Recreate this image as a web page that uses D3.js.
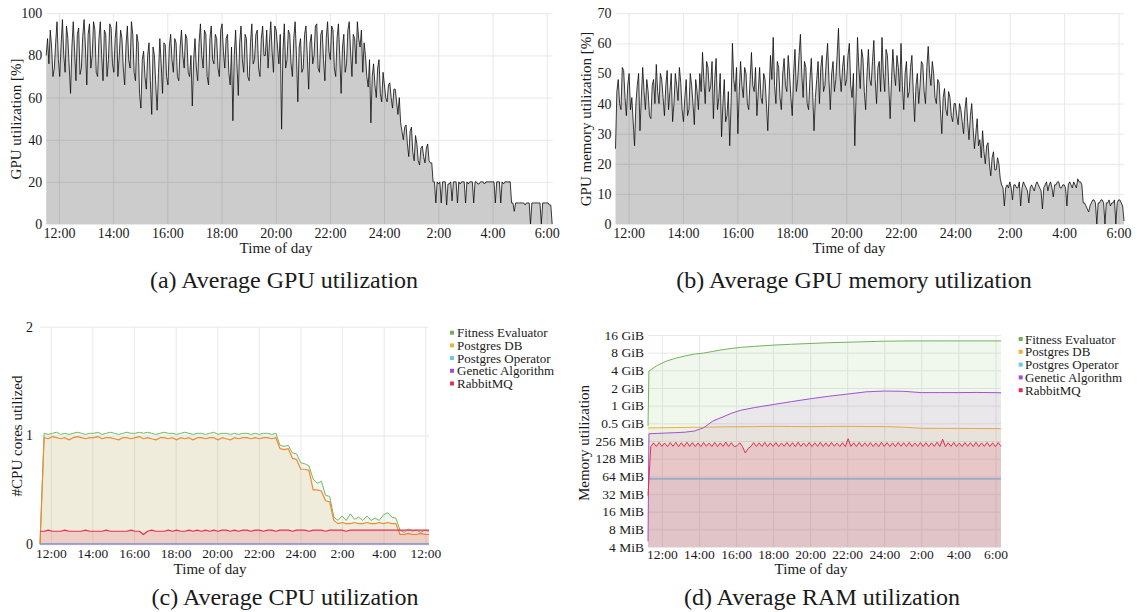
<!DOCTYPE html>
<html><head><meta charset="utf-8">
<script src="https://cdn.jsdelivr.net/npm/d3@7"></script>
<style>body{margin:0;background:#fff}</style>
</head><body>
<svg id="fig" width="1137" height="612"></svg>
<script>
// ---------------- DATA ----------------
const timeTicks = [12, 14, 16, 18, 20, 22, 24, 26, 28, 30];
const timeLabels = ["12:00","14:00","16:00","18:00","20:00","22:00","24:00","2:00","4:00","6:00"];
const cpuTimeLabels = ["12:00","14:00","16:00","18:00","20:00","22:00","24:00","2:00","4:00","12:00"];

// (a) average GPU utilization [%], uniformly sampled between start and end (hours)
const gpuUtilStart = 11.53, gpuUtilEnd = 30.2;
const gpuUtil = [80,88,76,92,84,70,74,86,96,78,
 70,85,97,80,72,94,88,75,62,84,96,82,68,90,93,71,74,89,97,84,
 66,90,95,74,80,96,92,72,70,88,96,80,68,92,90,70,78,95,93,76,
 72,88,96,70,80,92,88,74,66,85,94,78,74,96,90,72,68,90,86,62,
 55,78,82,70,64,80,86,68,52,84,80,66,54,72,88,76,62,86,85,70,
 66,84,90,78,72,88,86,70,68,84,92,80,74,90,88,72,70,80,56,78,
 88,74,68,86,95,80,74,92,90,70,66,88,94,78,76,90,88,74,70,92,
 95,82,74,88,90,72,66,84,49,80,92,76,61,86,94,78,72,90,88,70,
 68,86,95,76,78,90,92,74,70,88,94,80,80,92,74,86,96,82,72,94,
 92,84,76,90,45,82,95,74,78,92,90,76,70,88,96,80,58,84,88,72,
 74,90,94,80,64,86,90,76,80,94,95,74,72,90,92,78,68,88,96,82,
 78,94,92,74,70,88,95,80,62,84,90,72,76,92,96,82,70,90,88,76,
 96,88,84,92,72,86,80,70,65,78,48,70,76,66,60,74,78,62,58,72,
 66,60,58,66,67,60,55,64,64,58,52,60,48,44,40,46,47,38,32,44,
 46,34,30,42,38,30,28,36,37,32,29,36,38,30,29,29,20,20,10,20,
 19,20,10,20,20,20,9,19,19,20,11,20,20,20,10,20,19,20,20,20,
 10,20,19,20,20,20,10,20,20,19,19,20,20,20,19,20,20,20,20,20,
 20,20,10,20,20,20,10,20,19,20,20,20,20,20,10,10,6,10,10,10,
 10,10,10,10,9,10,10,10,0,10,10,10,10,10,10,10,0,10,10,10,
 10,10,9,9,0];

// (b) average GPU memory utilization [%]
const gpuMemStart = 11.52, gpuMemEnd = 30.2;
const gpuMem = [25,44,48,40,38,52,51,42,36,46,
 50,38,42,34,26,40,46,50,31,42,52,44,38,48,44,36,35,46,48,40,
 53,44,40,50,48,42,36,46,51,38,44,50,34,40,50,46,41,52,47,38,
 34,42,48,36,38,50,46,40,33,48,44,38,50,44,57,48,40,54,52,44,
 46,54,35,48,55,38,42,50,29,40,48,34,36,44,26,40,60,48,44,52,
 30,44,54,46,42,52,50,40,38,48,57,46,44,52,36,44,52,42,40,50,
 48,40,31,44,56,48,62,46,40,54,52,42,38,50,55,46,44,56,50,42,
 36,50,58,44,48,56,63,50,42,54,52,40,38,48,55,44,31,42,48,54,
 40,52,56,44,46,54,60,48,38,50,54,44,48,56,65,50,44,52,56,46,
 48,56,60,46,42,50,26,44,62,52,45,58,55,44,38,50,58,48,46,54,
 61,48,40,52,54,44,62,50,44,58,56,46,35,48,58,50,46,56,52,44,
 60,46,38,50,54,42,44,52,56,44,34,46,50,40,46,54,53,44,40,52,
 59,50,46,54,50,42,40,48,47,38,30,42,45,38,36,44,42,36,34,40,
 40,36,33,40,38,34,30,38,42,34,28,36,40,32,25,30,35,26,28,22,
 31,24,20,26,27,20,16,22,24,18,18,22,20,15,13,12,6,12,13,12,
 14,12,8,13,13,12,12,14,6,12,14,13,12,11,7,12,13,12,11,13,
 14,13,12,11,5,12,13,14,11,13,14,12,9,13,13,14,14,12,12,13,
 13,12,6,13,14,13,12,14,13,12,15,14,14,13,7,7,6,5,4,6,
 7,8,8,7,0,7,7,8,8,7,0,7,7,8,6,7,7,8,0,7,
 8,8,7,6,1];

// (c) CPU cores utilized
const cpuStart = 11.48, cpuEnd = 30.18;
const cpuFitness = [0,
 1.02,1.01,1.02,1.03,1.01,1.02,1.01,1.02,1.03,1.02,
 1.01,1.02,1.02,1.03,1.01,1.02,1.03,1.02,1.01,1.02,
 1.03,1.02,1.02,1.03,1.02,1.03,1.02,1.01,1.02,1.03,
 1.02,1.02,1.01,1.02,1.03,1.02,1.01,1.02,1.02,1.01,
 1.02,1.03,1.01,1.02,1.02,1.01,1.02,1.01,1.02,1.02,
 1.01,1.02,1.01,1.02,1.02,1.01,1.02,
 0.91,0.90,0.91,0.84,0.83,0.75,0.74,0.72,0.60,0.56,0.58,0.45,0.44,0.25,
 0.22,0.26,0.22,0.28,0.23,0.25,0.22,0.26,0.22,0.24,0.22,0.27,0.29,0.25,0.24,
 0.13,0.11,0.14,0.12,0.13,0.11,0.13,0.12];
const cpuSecondary = [0,
 0.98,0.97,0.99,0.98,0.97,0.98,0.96,0.98,0.99,0.98,
 0.97,0.98,0.98,0.99,0.97,0.98,0.98,0.97,0.96,0.98,
 0.98,0.97,0.98,0.99,0.97,0.98,0.97,0.96,0.98,0.98,
 0.97,0.98,0.96,0.98,0.97,0.98,0.96,0.98,0.98,0.97,
 0.98,0.98,0.96,0.98,0.97,0.96,0.98,0.97,0.98,0.98,
 0.97,0.98,0.97,0.98,0.98,0.97,0.98,
 0.88,0.87,0.88,0.79,0.78,0.69,0.69,0.68,0.50,0.50,0.49,0.40,0.39,0.22,
 0.19,0.20,0.19,0.19,0.20,0.19,0.19,0.20,0.19,0.19,0.20,0.19,0.20,0.19,0.19,
 0.09,0.09,0.10,0.09,0.09,0.10,0.09,0.09];
const cpuRabbit = [0.12,0.12,0.13,0.12,0.12,0.12,0.13,0.12,0.12,0.12,
 0.12,0.13,0.12,0.12,0.12,0.12,0.13,0.12,0.12,0.12,
 0.12,0.12,0.13,0.12,0.12,0.09,0.12,0.13,0.12,0.12,
 0.12,0.13,0.12,0.13,0.12,0.12,0.13,0.12,0.13,0.12,
 0.13,0.12,0.13,0.12,0.13,0.13,0.12,0.13,0.12,0.13,
 0.13,0.12,0.13,0.13,0.12,0.13,0.13,0.12,0.13,0.13,
 0.13,0.12,0.13,0.13,0.13,0.12,0.13,0.13,0.13,0.12,
 0.13,0.13,0.13,0.13,0.12,0.13,0.13,0.13,0.13,0.13,
 0.13,0.13,0.13,0.13,0.13,0.13,0.13,0.13,0.13,0.13,
 0.13,0.13,0.13,0.13,0.13];
const cpuFlatTimes = [11.48, 30.18];
const cpuOperator = [0.003, 0.003];
const cpuGenetic = [0.002, 0.002];

// (d) memory in MiB
const ramTimes = [11.25,11.3,11.75,12.25,12.75,13.25,13.75,14.25,14.75,15.25,15.75,16.25,17,18,19,20,21,22,23,24,25,26,27,28,29,30.3];
const ramFitness = [460,3990,4970,5900,6600,7200,7750,8050,8600,9200,9650,10080,10500,11000,11400,11750,12100,12350,12600,12850,12950,13000,13000,13000,13000,13000];
const ramGenetic = [5,340,345,350,355,362,378,430,560,650,760,855,950,1070,1200,1340,1480,1610,1760,1820,1800,1710,1710,1710,1720,1700];
const ramPostgresDB = [428,428,430,432,434,436,438,440,442,445,447,448,450,455,452,450,453,455,452,450,440,422,420,420,418,416];
const ramOperatorTimes = [11.25, 30.3];
const ramOperator = [58, 58];
const ramRabbitStart = 11.25, ramRabbitEnd = 30.3;
const ramRabbit = [30,
 205,238,206,242,207,236,205,240,208,243,
 206,239,205,244,207,240,206,237,205,241,
 208,236,206,242,205,238,207,245,206,240,
 205,212,239,206,160,190,206,240,207,238,
 206,243,205,238,207,241,205,236,208,242,
 206,240,205,244,207,237,206,241,205,239,
 207,243,206,238,205,242,208,236,206,240,
 205,280,207,239,206,243,205,238,207,241,
 206,237,205,244,207,240,206,238,205,242,
 208,239,206,243,205,237,207,241,206,240,
 205,238,207,244,206,275,205,239,207,242,
 206,237,205,241,208,240,206,243,205,238,
 207,242,206,239,205,241,207];
const ramTicks = [4,8,16,32,64,128,256,512,1024,2048,4096,8192,16384];

const legendNames = ["Fitness Evaluator","Postgres DB","Postgres Operator","Genetic Algorithm","RabbitMQ"];
const legendColors = ["#6fb25c","#f0b135","#63cde6","#a34fd5","#e5304c"];

// ---------------- DRAWING ----------------
const svg = d3.select("#fig");
const FONT = "'Liberation Serif','DejaVu Serif',serif";
const INK = "#1a1a1a";
const GRID = "#e8e8e8";

const uniform = (vals, t0, t1) => vals.map((v, i) => ({t: t0 + (t1 - t0) * i / (vals.length - 1), v}));
const paired = (ts, vals) => vals.map((v, i) => ({t: ts[i], v}));

function grid(x, y, yTicks, top, bottom, left, right) {
  const g = svg.append("g");
  g.append("g").attr("transform", `translate(0,${bottom})`)
    .call(d3.axisBottom(x).tickValues(timeTicks).tickSize(-(bottom - top)).tickFormat(""))
    .call(a => { a.select(".domain").remove(); a.selectAll("line").attr("stroke", GRID); });
  g.append("g").attr("transform", `translate(${left},0)`)
    .call(d3.axisLeft(y).tickValues(yTicks).tickSize(-(right - left)).tickFormat(""))
    .call(a => { a.select(".domain").remove(); a.selectAll("line").attr("stroke", GRID); });
}
function xTickLabels(x, yc, labels, size) {
  svg.append("g").attr("transform", `translate(0,${yc})`)
    .call(d3.axisBottom(x).tickValues(timeTicks).tickFormat((d, i) => labels[i]).tickSize(0).tickPadding(0))
    .call(a => { a.select(".domain").remove();
      a.selectAll("text").attr("y", 0).attr("dy", "0.35em").attr("font-family", FONT).attr("font-size", size).attr("fill", INK); });
}
function yTickLabels(y, ticks, left, pad, fmt, size) {
  svg.append("g").attr("transform", `translate(${left},0)`)
    .call(d3.axisLeft(y).tickValues(ticks).tickFormat(fmt).tickSize(0).tickPadding(pad))
    .call(a => { a.select(".domain").remove();
      a.selectAll("text").attr("font-family", FONT).attr("font-size", size).attr("fill", INK); });
}
function text(x, y, s, size, rot) {
  const t = svg.append("text").attr("font-family", FONT).attr("font-size", size).attr("fill", INK)
    .attr("text-anchor", "middle").attr("dominant-baseline", "central").text(s);
  if (rot) t.attr("transform", `translate(${x},${y}) rotate(-90)`); else t.attr("x", x).attr("y", y);
}
function series(pts, x, y, base, color, fillOp, sw) {
  svg.append("path").datum(pts).attr("fill", color).attr("fill-opacity", fillOp)
    .attr("d", d3.area().x(d => x(d.t)).y0(base).y1(d => y(d.v)));
  svg.append("path").datum(pts).attr("fill", "none").attr("stroke", color).attr("stroke-width", sw)
    .attr("stroke-linejoin", "round").attr("d", d3.line().x(d => x(d.t)).y(d => y(d.v)));
}
function legend(sqX, txtX, y0, dy) {
  legendNames.forEach((n, i) => {
    svg.append("rect").attr("x", sqX - 2).attr("y", y0 + i * dy - 2).attr("width", 4).attr("height", 4).attr("fill", legendColors[i]);
    svg.append("text").attr("x", txtX).attr("y", y0 + i * dy).attr("dominant-baseline", "central")
      .attr("font-family", FONT).attr("font-size", 13).attr("fill", INK).text(n);
  });
}
function gpuPanel(vals, t0, t1, left, right, dom, yMax, yt) {
  const top = 13.3, bottom = 224;
  const x = d3.scaleLinear().domain(dom).range([left, right]);
  const y = d3.scaleLinear().domain([0, yMax]).range([bottom, top]);
  grid(x, y, yt, top, bottom, left, right);
  const pts = uniform(vals, t0, t1);
  svg.append("path").datum(pts).attr("fill", "#000").attr("fill-opacity", 0.2)
    .attr("d", d3.area().x(d => x(d.t)).y0(y(0)).y1(d => y(d.v)));
  svg.append("path").datum(pts).attr("fill", "none").attr("stroke", "#0a0a0a").attr("stroke-width", 0.8)
    .attr("d", d3.line().x(d => x(d.t)).y(d => y(d.v)));
  xTickLabels(x, 233, timeLabels, 14);
  yTickLabels(y, yt, left, 4, d3.format("d"), 14);
}

// ---- (a)
gpuPanel(gpuUtil, gpuUtilStart, gpuUtilEnd, 46.2, 552.7, [11.53, 30.22], 100, [0, 20, 40, 60, 80, 100]);
text(16, 119, "GPU utilization [%]", 15, true);
text(276, 248, "Time of day", 15);
text(284, 280, "(a) Average GPU utilization", 24);
// ---- (b)
gpuPanel(gpuMem, gpuMemStart, gpuMemEnd, 615.5, 1124, [11.52, 30.2], 70, [0, 10, 20, 30, 40, 50, 60, 70]);
text(586, 119, "GPU memory utilization [%]", 15, true);
text(849, 248, "Time of day", 15);
text(854, 280, "(b) Average GPU memory utilization", 24);
// ---- (c)
{
  const left = 40, right = 429, top = 326.7, bottom = 544.3;
  const x = d3.scaleLinear().domain([11.48, 30.18]).range([left, right]);
  const y = d3.scaleLinear().domain([0, 2]).range([bottom, top]);
  const yt = [0, 1, 2];
  grid(x, y, yt, top, bottom, left, right);
  series(uniform(cpuFitness, cpuStart, cpuEnd), x, y, bottom, "#76b866", 0.1, 1);
  series(uniform(cpuSecondary, cpuStart, cpuEnd), x, y, bottom, "#f08a35", 0.1, 1.2);
  series(paired(cpuFlatTimes, cpuOperator), x, y, bottom, legendColors[2], 0.1, 1.2);
  series(paired(cpuFlatTimes, cpuGenetic), x, y, bottom, legendColors[3], 0.05, 0.6);
  series(uniform(cpuRabbit, cpuStart, cpuEnd), x, y, bottom, "#e5304c", 0.15, 1.2);
  xTickLabels(x, 553, cpuTimeLabels, 13.5);
  yTickLabels(y, yt, left, 7, d3.format("d"), 14);
  text(17, 436, "#CPU cores utilized", 15, true);
  text(210, 568.5, "Time of day", 15);
  text(285, 597, "(c) Average CPU utilization", 24);
  legend(452, 457, 332.7, 12.7);
}
// ---- (d)
{
  const left = 648, right = 1001, top = 335, bottom = 547;
  const x = d3.scaleLinear().domain([11.25, 30.3]).range([left, right]);
  const y = d3.scaleLog().base(2).domain([4, 16384]).range([bottom, top]);
  grid(x, y, ramTicks, top, bottom, left, right);
  series(paired(ramTimes, ramFitness), x, y, bottom, "#72b35f", 0.11, 1);
  series(paired(ramTimes, ramPostgresDB), x, y, bottom, "#eab040", 0.08, 1);
  series(paired(ramOperatorTimes, ramOperator), x, y, bottom, "#63c0dc", 0.06, 1.2);
  series(paired(ramTimes, ramGenetic), x, y, bottom, "#a34fd5", 0.09, 1);
  series(uniform(ramRabbit, ramRabbitStart, ramRabbitEnd), x, y, bottom, "#e5304c", 0.15, 1);
  xTickLabels(x, 554.5, timeLabels, 13.5);
  yTickLabels(y, ramTicks, left, 4, v => v < 512 ? `${v} MiB` : `${v / 1024} GiB`, 13.5);
  text(584, 443, "Memory utilization", 15, true);
  text(811, 568.5, "Time of day", 15);
  text(822, 597, "(d) Average RAM utilization", 24);
  legend(1020.7, 1025, 339, 12.8);
}
</script>
</body></html>
